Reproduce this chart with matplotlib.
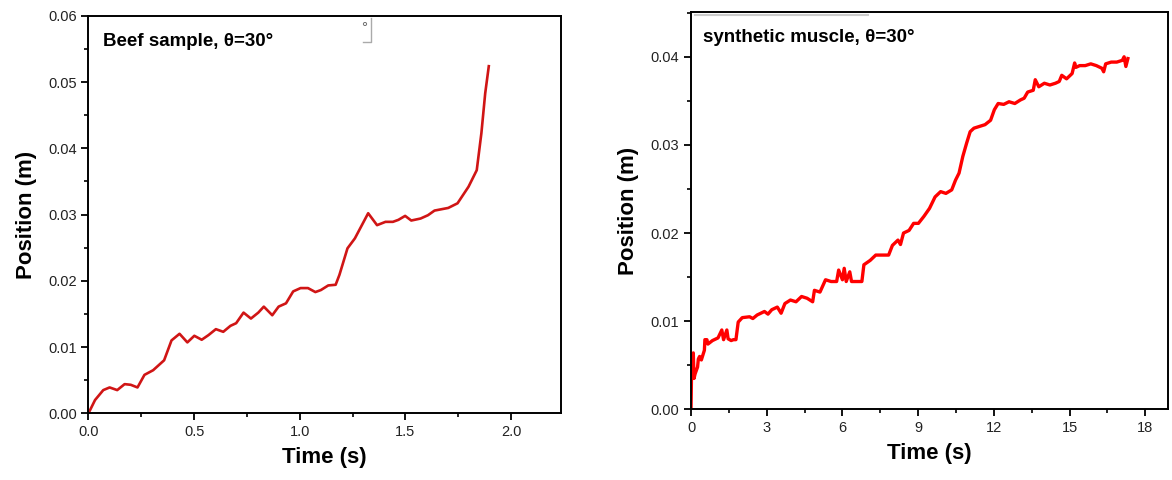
import matplotlib.pyplot as plt
from matplotlib.ticker import MultipleLocator, FormatStrFormatter

# beef sample, theta = 30 deg
beef_t = [0.0, 0.031, 0.07, 0.10, 0.136, 0.171, 0.20, 0.232, 0.265, 0.306,
          0.358, 0.393, 0.431, 0.468, 0.501, 0.536, 0.568, 0.603, 0.638, 0.672,
          0.699, 0.734, 0.769, 0.804, 0.83, 0.87, 0.90, 0.935, 0.969, 1.004,
          1.039, 1.074, 1.10, 1.135, 1.17, 1.188, 1.226, 1.261, 1.324, 1.366,
          1.406, 1.441, 1.467, 1.499, 1.528, 1.572, 1.607, 1.638, 1.703, 1.747,
          1.799, 1.838, 1.86, 1.878, 1.895]
beef_pos = [0.0, 0.0020, 0.0035, 0.0039, 0.0035, 0.0044, 0.0043, 0.0039, 0.0058, 0.0065,
            0.0080, 0.0110, 0.0120, 0.0107, 0.0117, 0.0111, 0.0118, 0.0127, 0.0123, 0.0132,
            0.0136, 0.0152, 0.0143, 0.0152, 0.0161, 0.0148, 0.0161, 0.0166, 0.0184, 0.0189,
            0.0189, 0.0183, 0.0186, 0.0193, 0.0194, 0.0209, 0.0249, 0.0264, 0.0302, 0.0284,
            0.0289, 0.0289, 0.0292, 0.0298, 0.0291, 0.0294, 0.0299, 0.0306, 0.0310, 0.0317,
            0.0342, 0.0367, 0.0423, 0.0483, 0.0524]

# synthetic muscle, theta = 30 deg (noisy trace)
syn_t = [0.0, 0.03, 0.09, 0.12, 0.16, 0.26, 0.29, 0.34, 0.41, 0.53,
         0.55, 0.63, 0.67, 0.85, 1.07, 1.22, 1.29, 1.42, 1.47, 1.59,
         1.68, 1.78, 1.87, 2.03, 2.32, 2.45, 2.62, 2.91, 3.05, 3.2,
         3.42, 3.57, 3.72, 3.94, 4.16, 4.38, 4.6, 4.82, 4.89, 5.11,
         5.33, 5.55, 5.77, 5.85, 6.0, 6.07, 6.15, 6.29, 6.36, 6.58,
         6.77, 6.85, 7.1, 7.32, 7.61, 7.83, 7.98, 8.2, 8.3, 8.42,
         8.64, 8.82, 9.01, 9.23, 9.45, 9.67, 9.89, 10.1, 10.33, 10.48,
         10.62, 10.77, 10.92, 11.06, 11.21, 11.43, 11.65, 11.87, 12.02, 12.17,
         12.39, 12.6, 12.83, 13.05, 13.2, 13.34, 13.56, 13.64, 13.78, 14.0,
         14.22, 14.44, 14.59, 14.69, 14.88, 15.1, 15.2, 15.25, 15.4, 15.62,
         15.84, 16.06, 16.28, 16.35, 16.43, 16.65, 16.87, 17.09, 17.16, 17.23,
         17.31]
syn_pos = [0.0, 0.0060, 0.0064, 0.0035, 0.0040, 0.0048, 0.0057, 0.0060, 0.0056, 0.0067,
           0.0079, 0.0079, 0.0074, 0.0078, 0.0081, 0.0090, 0.0079, 0.0090, 0.0080, 0.0078,
           0.0079, 0.0079, 0.0099, 0.0104, 0.0105, 0.0103, 0.0107, 0.0111, 0.0108, 0.0113,
           0.0116, 0.0109, 0.0120, 0.0124, 0.0122, 0.0128, 0.0126, 0.0122, 0.0135, 0.0133,
           0.0147, 0.0145, 0.0145, 0.0158, 0.0147, 0.0160, 0.0145, 0.0156, 0.0145, 0.0145,
           0.0145, 0.0164, 0.0169, 0.0175, 0.0175, 0.0175, 0.0186, 0.0192, 0.0187, 0.0200,
           0.0203, 0.0211, 0.0211, 0.0219, 0.0228, 0.0241, 0.0247, 0.0245, 0.0249, 0.0260,
           0.0268, 0.0287, 0.0302, 0.0315, 0.0319, 0.0321, 0.0323, 0.0328, 0.0340, 0.0347,
           0.0346, 0.0349, 0.0347, 0.0351, 0.0353, 0.0360, 0.0362, 0.0374, 0.0366, 0.0370,
           0.0368, 0.0370, 0.0372, 0.0379, 0.0375, 0.0381, 0.0393, 0.0388, 0.0390, 0.0390,
           0.0392, 0.0390, 0.0387, 0.0383, 0.0392, 0.0394, 0.0394, 0.0396, 0.0400, 0.0389,
           0.0398]

plt.rcParams['font.family'] = ['Liberation Sans', 'DejaVu Sans']


def style_axes(ax):
    for s in ax.spines.values():
        s.set_linewidth(1.4)
    ax.tick_params(which='major', direction='out', length=5, width=1.3,
                   labelsize=10.5, labelcolor='#222222', pad=3.5)
    ax.tick_params(which='minor', direction='out', length=3, width=1.2)
    ax.set_xlabel('Time (s)', fontsize=16, fontweight='bold', labelpad=6)
    ax.set_ylabel('Position (m)', fontsize=16, fontweight='bold', labelpad=8)


fig = plt.figure(figsize=(11.72, 4.8), dpi=100)

# left panel
ax1 = fig.add_axes([0.0755, 0.139, 0.4032, 0.828])
ax1.plot(beef_t, beef_pos, color='#d01515', linewidth=1.9)
ax1.set_xlim(0, 2.237)
ax1.set_ylim(0, 0.06)
ax1.xaxis.set_major_locator(MultipleLocator(0.5))
ax1.xaxis.set_minor_locator(MultipleLocator(0.25))
ax1.yaxis.set_major_locator(MultipleLocator(0.01))
ax1.yaxis.set_minor_locator(MultipleLocator(0.005))
ax1.xaxis.set_major_formatter(FormatStrFormatter('%.1f'))
ax1.yaxis.set_major_formatter(FormatStrFormatter('%.2f'))
style_axes(ax1)
ax1.text(0.030, 0.925, 'Beef sample, θ=30°', transform=ax1.transAxes,
         fontsize=13.5, fontweight='bold')
# small leftover mark from the original figure
ax1.text(0.583, 0.969, '°', transform=ax1.transAxes, fontsize=11,
         color='#666666', ha='center', va='center')
ax1.plot([0.597, 0.597, 0.580], [0.995, 0.935, 0.935], transform=ax1.transAxes,
         color='#aaaaaa', linewidth=1)

# right panel
ax2 = fig.add_axes([0.5896, 0.1473, 0.407, 0.828])
ax2.plot(syn_t, syn_pos, color='#ff0000', linewidth=2.4)
ax2.set_xlim(0, 18.9)
ax2.set_ylim(0, 0.0451)
ax2.xaxis.set_major_locator(MultipleLocator(3))
ax2.xaxis.set_minor_locator(MultipleLocator(1.5))
ax2.yaxis.set_major_locator(MultipleLocator(0.01))
ax2.yaxis.set_minor_locator(MultipleLocator(0.005))
ax2.yaxis.set_major_formatter(FormatStrFormatter('%.2f'))
style_axes(ax2)
ax2.text(0.0245, 0.925, 'synthetic muscle, θ=30°', transform=ax2.transAxes,
         fontsize=13.5, fontweight='bold')
ax2.plot([0.008, 0.371], [0.9925, 0.9925], transform=ax2.transAxes,
         color='#cccccc', linewidth=1.5)

fig.savefig('out.png', dpi=100)
